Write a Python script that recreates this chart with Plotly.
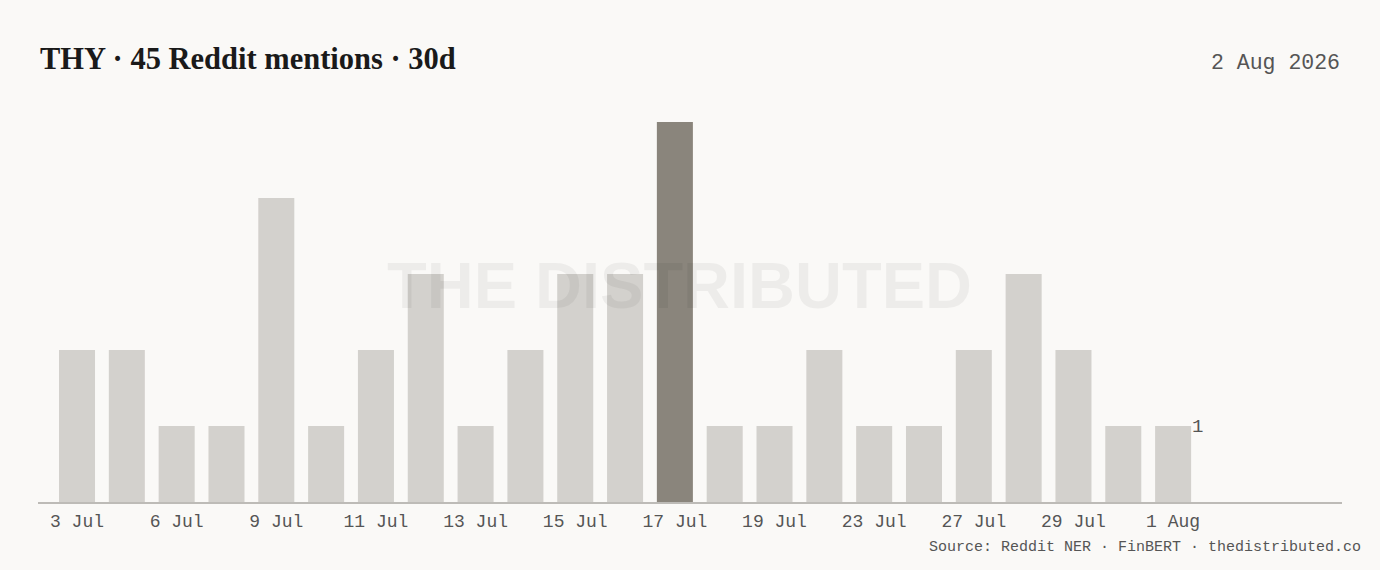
import plotly.graph_objects as go

# data
dates = ['3 Jul', '4 Jul', '6 Jul', '8 Jul', '9 Jul', '10 Jul', '11 Jul', '12 Jul',
         '13 Jul', '14 Jul', '15 Jul', '16 Jul', '17 Jul', '18 Jul', '19 Jul', '21 Jul',
         '23 Jul', '25 Jul', '27 Jul', '28 Jul', '29 Jul', '31 Jul', '1 Aug']
mentions = [2, 2, 1, 1, 4, 1, 2, 3, 1, 2, 3, 3, 5, 1, 1, 2, 1, 1, 2, 3, 2, 1, 1]
tick_dates = dates[::2]
peak_date = '17 Jul'

BG = '#faf9f7'
BAR = '#d3d1cd'
PEAK = '#8a857c'
MONO = 'Liberation Mono, DejaVu Sans Mono, monospace'

colors = [PEAK if d == peak_date else BAR for d in dates]

fig = go.Figure(go.Bar(
    x=dates, y=mentions,
    marker=dict(color=colors, line=dict(width=0)),
    hoverinfo='x+y',
))

fig.update_layout(
    width=1380, height=570,
    paper_bgcolor=BG, plot_bgcolor=BG,
    margin=dict(l=38, r=38, t=122, b=68),
    bargap=0.277,
    showlegend=False,
    xaxis=dict(
        type='category',
        range=[-0.783, 25.39],
        tickmode='array', tickvals=tick_dates, ticktext=tick_dates,
        tickfont=dict(family=MONO, size=18, color='#555555'),
        ticklabelstandoff=2,
        showline=True, linecolor='#bdbbb7', linewidth=1.5,
        showgrid=False, ticks='', ticklen=0,
    ),
    yaxis=dict(range=[0, 5], visible=False, showgrid=False, zeroline=False),
)

# watermark
fig.add_annotation(
    text='<b>THE DISTRIBUTED</b>', xref='paper', yref='paper', x=0.492, y=0.571,
    showarrow=False, font=dict(family='Liberation Sans, Arial, sans-serif', size=65,
                               color='rgba(0,0,0,0.05)'),
)

# title
fig.add_annotation(
    text='<b>THY · 45 Reddit mentions · 30d</b>', xref='paper', yref='paper',
    x=0, y=1.165, xanchor='left', yanchor='middle', showarrow=False,
    font=dict(family='Liberation Serif, DejaVu Serif, serif', size=30.5, color='#1a1a1a'),
)

# date stamp
fig.add_annotation(
    text='2 Aug 2026', xref='paper', yref='paper', x=1, y=1.155,
    xanchor='right', yanchor='middle', showarrow=False,
    font=dict(family=MONO, size=21.5, color='#555555'),
)

# source
fig.add_annotation(
    text='Source: Reddit NER · FinBERT · thedistributed.co', xref='paper', yref='paper',
    x=1.0163, y=-0.12, xanchor='right', yanchor='middle', showarrow=False,
    font=dict(family=MONO, size=15, color='#555555'),
)

# last value label
fig.add_annotation(
    text=str(mentions[-1]), x=dates[-1], y=mentions[-1], xanchor='left', yanchor='middle',
    xshift=17, yshift=-1, showarrow=False, font=dict(family=MONO, size=19, color='#555555'),
)

fig.write_html('out.html', config={'displayModeBar': False}, post_script=(
    "document.body.style.margin='0';"
    "document.body.style.background='#faf9f7';"
))
